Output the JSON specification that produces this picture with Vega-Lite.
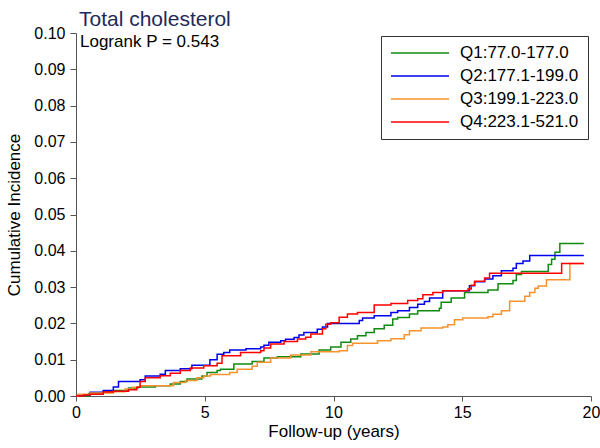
{
  "$schema": "https://vega.github.io/schema/vega-lite/v6.json",
  "width": 515,
  "height": 363,
  "autosize": {"type": "none"},
  "padding": {"left": 76, "top": 33, "right": 9, "bottom": 52},
  "background": "white",
  "config": {"view": {"stroke": null}, "font": "Liberation Sans"},
  "title": {"text": "Total cholesterol", "anchor": "start", "frame": "group", "color": "#1e2a5a", "fontSize": 21, "fontWeight": "normal", "font": "Liberation Sans", "dx": 3, "offset": -22, "baseline": "alphabetic"},
  "encoding": {
    "x": {"field": "t", "type": "quantitative", "scale": {"domain": [0, 20], "nice": false},
      "axis": {"title": "Follow-up (years)", "values": [0, 5, 10, 15, 20], "format": "d", "grid": false, "domainColor": "#555", "tickColor": "#555", "tickSize": 5, "labelPadding": 3, "labelFontSize": 16, "labelColor": "black", "labelFlush": false, "labelOverlap": false, "titleFontSize": 17, "titleFontWeight": "normal", "titleColor": "black", "titlePadding": 3}},
    "y": {"field": "v", "type": "quantitative", "scale": {"domain": [0, 0.1], "nice": false},
      "axis": {"title": "Cumulative Incidence", "values": [0, 0.01, 0.02, 0.03, 0.04, 0.05, 0.06, 0.07, 0.08, 0.09, 0.1], "format": ".2f", "grid": false, "domainColor": "#555", "tickColor": "#555", "tickSize": 6, "labelPadding": 5, "labelFontSize": 16, "labelColor": "black", "labelOverlap": false, "labelFlush": false, "titleFontSize": 17, "titleFontWeight": "normal", "titleColor": "black", "titlePadding": 10}}
  },
  "layer": [
    {
      "data": {"values": [
        {"g":"Q1:77.0-177.0","t":0,"v":0},{"g":"Q1:77.0-177.0","t":0.5,"v":0.0007},{"g":"Q1:77.0-177.0","t":1.06,"v":0.0013},{"g":"Q1:77.0-177.0","t":1.45,"v":0.0015},{"g":"Q1:77.0-177.0","t":2.04,"v":0.0022},{"g":"Q1:77.0-177.0","t":2.4,"v":0.0025},{"g":"Q1:77.0-177.0","t":3.08,"v":0.0028},{"g":"Q1:77.0-177.0","t":3.66,"v":0.0033},{"g":"Q1:77.0-177.0","t":4.05,"v":0.004},{"g":"Q1:77.0-177.0","t":4.31,"v":0.0047},{"g":"Q1:77.0-177.0","t":4.89,"v":0.0055},{"g":"Q1:77.0-177.0","t":5.09,"v":0.0065},{"g":"Q1:77.0-177.0","t":5.48,"v":0.007},{"g":"Q1:77.0-177.0","t":5.61,"v":0.0074},{"g":"Q1:77.0-177.0","t":6.13,"v":0.0088},{"g":"Q1:77.0-177.0","t":6.84,"v":0.0095},{"g":"Q1:77.0-177.0","t":7.3,"v":0.0105},{"g":"Q1:77.0-177.0","t":7.82,"v":0.0108},{"g":"Q1:77.0-177.0","t":8.73,"v":0.0116},{"g":"Q1:77.0-177.0","t":9.44,"v":0.0127},{"g":"Q1:77.0-177.0","t":9.89,"v":0.0135},{"g":"Q1:77.0-177.0","t":10.29,"v":0.0148},{"g":"Q1:77.0-177.0","t":10.67,"v":0.0157},{"g":"Q1:77.0-177.0","t":10.93,"v":0.0166},{"g":"Q1:77.0-177.0","t":11.26,"v":0.0175},{"g":"Q1:77.0-177.0","t":11.58,"v":0.0185},{"g":"Q1:77.0-177.0","t":11.97,"v":0.0195},{"g":"Q1:77.0-177.0","t":12.3,"v":0.0212},{"g":"Q1:77.0-177.0","t":12.49,"v":0.0216},{"g":"Q1:77.0-177.0","t":12.95,"v":0.0226},{"g":"Q1:77.0-177.0","t":13.27,"v":0.0235},{"g":"Q1:77.0-177.0","t":14.11,"v":0.0242},{"g":"Q1:77.0-177.0","t":14.18,"v":0.0258},{"g":"Q1:77.0-177.0","t":14.57,"v":0.027},{"g":"Q1:77.0-177.0","t":15.09,"v":0.0285},{"g":"Q1:77.0-177.0","t":16.0,"v":0.0292},{"g":"Q1:77.0-177.0","t":16.39,"v":0.0309},{"g":"Q1:77.0-177.0","t":16.97,"v":0.0318},{"g":"Q1:77.0-177.0","t":17.1,"v":0.0335},{"g":"Q1:77.0-177.0","t":17.3,"v":0.0343},{"g":"Q1:77.0-177.0","t":18.34,"v":0.0362},{"g":"Q1:77.0-177.0","t":18.47,"v":0.0377},{"g":"Q1:77.0-177.0","t":18.6,"v":0.0396},{"g":"Q1:77.0-177.0","t":18.79,"v":0.042},{"g":"Q1:77.0-177.0","t":19.72,"v":0.042},

        {"g":"Q2:177.1-199.0","t":0,"v":0},{"g":"Q2:177.1-199.0","t":0.09,"v":0.0003},{"g":"Q2:177.1-199.0","t":0.55,"v":0.001},{"g":"Q2:177.1-199.0","t":1.06,"v":0.0015},{"g":"Q2:177.1-199.0","t":1.45,"v":0.0025},{"g":"Q2:177.1-199.0","t":1.65,"v":0.004},{"g":"Q2:177.1-199.0","t":2.49,"v":0.0045},{"g":"Q2:177.1-199.0","t":2.69,"v":0.0055},{"g":"Q2:177.1-199.0","t":3.27,"v":0.006},{"g":"Q2:177.1-199.0","t":3.47,"v":0.007},{"g":"Q2:177.1-199.0","t":4.05,"v":0.0075},{"g":"Q2:177.1-199.0","t":4.5,"v":0.0085},{"g":"Q2:177.1-199.0","t":5.2,"v":0.01},{"g":"Q2:177.1-199.0","t":5.48,"v":0.0115},{"g":"Q2:177.1-199.0","t":5.74,"v":0.012},{"g":"Q2:177.1-199.0","t":5.97,"v":0.0127},{"g":"Q2:177.1-199.0","t":6.6,"v":0.013},{"g":"Q2:177.1-199.0","t":7.17,"v":0.0135},{"g":"Q2:177.1-199.0","t":7.3,"v":0.014},{"g":"Q2:177.1-199.0","t":7.49,"v":0.0148},{"g":"Q2:177.1-199.0","t":7.95,"v":0.0152},{"g":"Q2:177.1-199.0","t":8.14,"v":0.0156},{"g":"Q2:177.1-199.0","t":8.47,"v":0.0161},{"g":"Q2:177.1-199.0","t":8.66,"v":0.0168},{"g":"Q2:177.1-199.0","t":8.85,"v":0.0175},{"g":"Q2:177.1-199.0","t":9.37,"v":0.0184},{"g":"Q2:177.1-199.0","t":9.57,"v":0.019},{"g":"Q2:177.1-199.0","t":9.77,"v":0.02},{"g":"Q2:177.1-199.0","t":11.0,"v":0.0208},{"g":"Q2:177.1-199.0","t":11.13,"v":0.0215},{"g":"Q2:177.1-199.0","t":11.58,"v":0.0221},{"g":"Q2:177.1-199.0","t":12.23,"v":0.023},{"g":"Q2:177.1-199.0","t":12.49,"v":0.0235},{"g":"Q2:177.1-199.0","t":12.95,"v":0.0244},{"g":"Q2:177.1-199.0","t":13.27,"v":0.0253},{"g":"Q2:177.1-199.0","t":13.53,"v":0.026},{"g":"Q2:177.1-199.0","t":13.73,"v":0.027},{"g":"Q2:177.1-199.0","t":14.24,"v":0.029},{"g":"Q2:177.1-199.0","t":15.28,"v":0.0304},{"g":"Q2:177.1-199.0","t":15.48,"v":0.0315},{"g":"Q2:177.1-199.0","t":15.87,"v":0.0322},{"g":"Q2:177.1-199.0","t":16.19,"v":0.0331},{"g":"Q2:177.1-199.0","t":16.52,"v":0.0345},{"g":"Q2:177.1-199.0","t":16.97,"v":0.0352},{"g":"Q2:177.1-199.0","t":17.1,"v":0.0365},{"g":"Q2:177.1-199.0","t":17.36,"v":0.0372},{"g":"Q2:177.1-199.0","t":17.62,"v":0.0387},{"g":"Q2:177.1-199.0","t":19.72,"v":0.0387},

        {"g":"Q3:199.1-223.0","t":0,"v":0},{"g":"Q3:199.1-223.0","t":0.09,"v":0.0005},{"g":"Q3:199.1-223.0","t":0.55,"v":0.0008},{"g":"Q3:199.1-223.0","t":1.45,"v":0.0012},{"g":"Q3:199.1-223.0","t":1.9,"v":0.0019},{"g":"Q3:199.1-223.0","t":2.2,"v":0.0024},{"g":"Q3:199.1-223.0","t":2.49,"v":0.0028},{"g":"Q3:199.1-223.0","t":3.79,"v":0.0037},{"g":"Q3:199.1-223.0","t":4.25,"v":0.0043},{"g":"Q3:199.1-223.0","t":4.7,"v":0.005},{"g":"Q3:199.1-223.0","t":4.96,"v":0.0055},{"g":"Q3:199.1-223.0","t":5.22,"v":0.0059},{"g":"Q3:199.1-223.0","t":5.97,"v":0.0065},{"g":"Q3:199.1-223.0","t":6.26,"v":0.0074},{"g":"Q3:199.1-223.0","t":6.84,"v":0.0082},{"g":"Q3:199.1-223.0","t":7.04,"v":0.0093},{"g":"Q3:199.1-223.0","t":7.56,"v":0.0105},{"g":"Q3:199.1-223.0","t":8.34,"v":0.0113},{"g":"Q3:199.1-223.0","t":9.12,"v":0.0122},{"g":"Q3:199.1-223.0","t":10.22,"v":0.0125},{"g":"Q3:199.1-223.0","t":10.54,"v":0.0139},{"g":"Q3:199.1-223.0","t":10.74,"v":0.0145},{"g":"Q3:199.1-223.0","t":11.71,"v":0.0152},{"g":"Q3:199.1-223.0","t":12.23,"v":0.0158},{"g":"Q3:199.1-223.0","t":12.75,"v":0.0169},{"g":"Q3:199.1-223.0","t":12.95,"v":0.018},{"g":"Q3:199.1-223.0","t":13.4,"v":0.0187},{"g":"Q3:199.1-223.0","t":14.24,"v":0.019},{"g":"Q3:199.1-223.0","t":14.44,"v":0.0196},{"g":"Q3:199.1-223.0","t":14.7,"v":0.021},{"g":"Q3:199.1-223.0","t":15.02,"v":0.0215},{"g":"Q3:199.1-223.0","t":16.0,"v":0.0218},{"g":"Q3:199.1-223.0","t":16.19,"v":0.0225},{"g":"Q3:199.1-223.0","t":16.52,"v":0.0235},{"g":"Q3:199.1-223.0","t":16.84,"v":0.0261},{"g":"Q3:199.1-223.0","t":17.36,"v":0.0261},{"g":"Q3:199.1-223.0","t":17.43,"v":0.0275},{"g":"Q3:199.1-223.0","t":17.62,"v":0.0285},{"g":"Q3:199.1-223.0","t":17.82,"v":0.0297},{"g":"Q3:199.1-223.0","t":17.95,"v":0.0303},{"g":"Q3:199.1-223.0","t":18.27,"v":0.032},{"g":"Q3:199.1-223.0","t":19.18,"v":0.0365},{"g":"Q3:199.1-223.0","t":19.72,"v":0.0365},

        {"g":"Q4:223.1-521.0","t":0,"v":0},{"g":"Q4:223.1-521.0","t":0.3,"v":0.0003},{"g":"Q4:223.1-521.0","t":0.55,"v":0.0005},{"g":"Q4:223.1-521.0","t":1.06,"v":0.0011},{"g":"Q4:223.1-521.0","t":1.45,"v":0.0013},{"g":"Q4:223.1-521.0","t":2.04,"v":0.0017},{"g":"Q4:223.1-521.0","t":2.36,"v":0.0024},{"g":"Q4:223.1-521.0","t":2.49,"v":0.004},{"g":"Q4:223.1-521.0","t":2.69,"v":0.005},{"g":"Q4:223.1-521.0","t":3.27,"v":0.0056},{"g":"Q4:223.1-521.0","t":3.66,"v":0.0063},{"g":"Q4:223.1-521.0","t":4.05,"v":0.007},{"g":"Q4:223.1-521.0","t":4.44,"v":0.0077},{"g":"Q4:223.1-521.0","t":4.96,"v":0.0083},{"g":"Q4:223.1-521.0","t":5.48,"v":0.009},{"g":"Q4:223.1-521.0","t":5.67,"v":0.0111},{"g":"Q4:223.1-521.0","t":6.39,"v":0.012},{"g":"Q4:223.1-521.0","t":7.17,"v":0.0125},{"g":"Q4:223.1-521.0","t":7.3,"v":0.0132},{"g":"Q4:223.1-521.0","t":7.56,"v":0.0143},{"g":"Q4:223.1-521.0","t":8.08,"v":0.015},{"g":"Q4:223.1-521.0","t":8.6,"v":0.0157},{"g":"Q4:223.1-521.0","t":8.92,"v":0.0162},{"g":"Q4:223.1-521.0","t":9.12,"v":0.0171},{"g":"Q4:223.1-521.0","t":9.57,"v":0.0185},{"g":"Q4:223.1-521.0","t":9.7,"v":0.0198},{"g":"Q4:223.1-521.0","t":9.89,"v":0.0202},{"g":"Q4:223.1-521.0","t":10.22,"v":0.0217},{"g":"Q4:223.1-521.0","t":10.54,"v":0.0226},{"g":"Q4:223.1-521.0","t":10.93,"v":0.023},{"g":"Q4:223.1-521.0","t":11.58,"v":0.0251},{"g":"Q4:223.1-521.0","t":12.23,"v":0.0255},{"g":"Q4:223.1-521.0","t":12.88,"v":0.0263},{"g":"Q4:223.1-521.0","t":13.27,"v":0.0268},{"g":"Q4:223.1-521.0","t":13.47,"v":0.0279},{"g":"Q4:223.1-521.0","t":13.86,"v":0.0285},{"g":"Q4:223.1-521.0","t":14.24,"v":0.029},{"g":"Q4:223.1-521.0","t":15.22,"v":0.0295},{"g":"Q4:223.1-521.0","t":15.35,"v":0.0305},{"g":"Q4:223.1-521.0","t":15.48,"v":0.0316},{"g":"Q4:223.1-521.0","t":15.87,"v":0.0325},{"g":"Q4:223.1-521.0","t":16.06,"v":0.0338},{"g":"Q4:223.1-521.0","t":18.86,"v":0.0365},{"g":"Q4:223.1-521.0","t":19.72,"v":0.0365}
      ]},
      "mark": {"type": "line", "interpolate": "step-after", "strokeWidth": 1.5},
      "encoding": {
        "color": {"field": "g", "type": "nominal",
          "scale": {"domain": ["Q1:77.0-177.0", "Q2:177.1-199.0", "Q3:199.1-223.0", "Q4:223.1-521.0"], "range": ["#118a11", "#0000ee", "#f7922e", "#ff0000"]},
          "legend": {"title": null, "orient": "top-right", "offset": 3, "strokeColor": "#333", "fillColor": "white", "padding": 9, "symbolType": "stroke", "symbolSize": 3364, "symbolStrokeWidth": 1.5, "labelFontSize": 17, "labelColor": "black", "labelOffset": 10, "clipHeight": 16, "rowPadding": 6}}
      }
    },
    {
      "data": {"values": [{"label": "Logrank P = 0.543", "t": 0, "v": 0.1}]},
      "mark": {"type": "text", "align": "left", "baseline": "alphabetic", "dx": 4, "dy": 14, "fontSize": 17, "color": "black"},
      "encoding": {
        "text": {"field": "label"}
      }
    }
  ]
}
